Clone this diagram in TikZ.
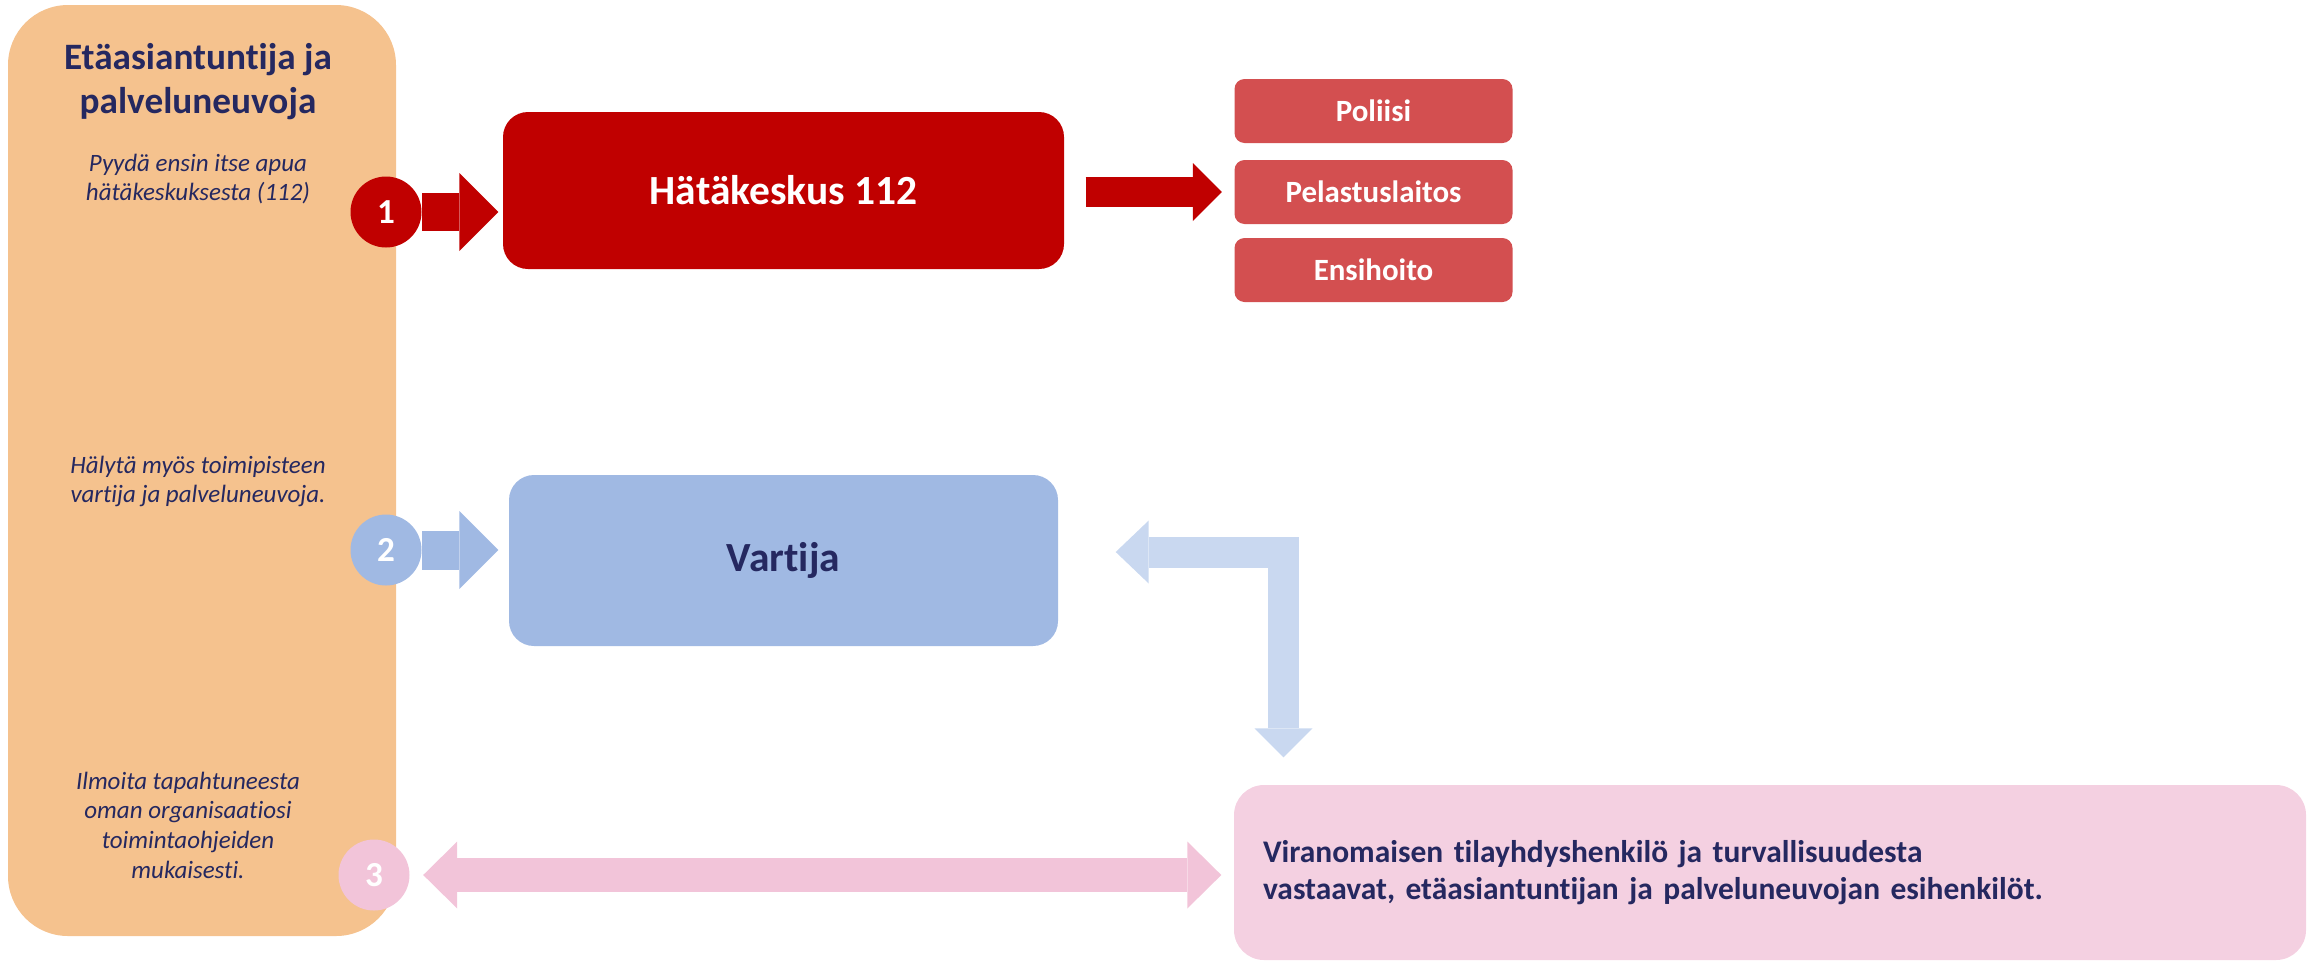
\documentclass[tikz,border=0pt]{standalone}
\usepackage{fontspec}
\setmainfont{Carlito}[Ligatures=NoCommon]
\usepackage{xcolor}
\usetikzlibrary{arrows.meta,positioning,calc}

\definecolor{orangebg}{HTML}{F5C28E}
\definecolor{darkred}{HTML}{C00000}
\definecolor{boxred}{HTML}{D34F50}
\definecolor{navytxt}{HTML}{252860}
\definecolor{bluebox}{HTML}{A0B9E3}
\definecolor{lightblue}{HTML}{C9D8F0}
\definecolor{pinkarr}{HTML}{F2C4D9}
\definecolor{pinkbox}{HTML}{F4D0E1}

\begin{document}
\begin{tikzpicture}[x=0.1mm, y=-0.1mm,
  box/.style={rectangle, rounded corners=2.5mm, inner sep=0pt},
  num/.style={circle, minimum size=7.1mm, inner sep=0pt, text=white, font=\fontsize{10}{12}\selectfont\bfseries},
  side/.style={align=center, anchor=north, inner sep=0pt, text=navytxt, font=\fontsize{7.1}{8.5}\selectfont\itshape},
  big/.style={font=\fontsize{11.8}{13}\selectfont\bfseries},
  small/.style={font=\fontsize{8.8}{10.5}\selectfont\bfseries}]
\useasboundingbox (0,0) rectangle (2308,963);

% left column
\node[box, rounded corners=6mm, fill=orangebg, minimum width=38.8mm, minimum height=93.1mm] (agent) at (202,470.5) {};
\node[align=center, anchor=north, inner sep=0pt, text=navytxt, font=\fontsize{10.6}{12.5}\selectfont\bfseries] (title) at (198,43) {Etäasiantuntija ja\\palveluneuvoja};
\node[side] (t1) at (198,153) {Pyydä ensin itse apua\\hätäkeskuksesta (112)};
\node[side] (t2) at (198,455) {Hälytä myös toimipisteen\\vartija ja palveluneuvoja.};
\node[side] (t3) at (188,771) {Ilmoita tapahtuneesta\\oman organisaatiosi\\toimintaohjeiden\\mukaisesti.};

% targets
\node[box, fill=darkred, text=white, big, minimum width=56.1mm, minimum height=15.7mm] (hk) at (783.5,190.5) {Hätäkeskus 112};
\node[box, fill=bluebox, text=navytxt, big, minimum width=54.9mm, minimum height=17.1mm] (vartija) at (783.5,560.5) {Vartija};
\foreach \y/\name/\txt in {111/pol/Poliisi, 192/pel/Pelastuslaitos, 270/ens/Ensihoito}{
  \node[box, rounded corners=1mm, fill=boxred, text=white, small, minimum width=27.8mm, minimum height=6.4mm] (\name) at (1373.5,\y) {\txt};
}
\node[box, rounded corners=3mm, fill=pinkbox, text=navytxt, font=\fontsize{8.95}{10.6}\selectfont\bfseries, align=left, text width=101.4mm, inner xsep=2.9mm, minimum height=17.5mm] (viran) at (1770,872.5)
  {Viranomaisen tilayhdyshenkilö ja turvallisuudesta\\vastaavat, etäasiantuntijan ja palveluneuvojan esihenkilöt.};

% step numbers
\node[num, fill=darkred] (c1) at (386,212) {1};
\node[num, fill=bluebox] (c2) at (386,550) {2};
\node[num, fill=pinkarr] (c3) at (374,875) {3};

% block arrows
\draw[darkred, line width=3.8mm, shorten >=0.4mm, -{Triangle[length=3.9mm, width=7.8mm, line width=0pt]}] (c1.east) -- (c1 -| hk.west);
\draw[darkred, line width=3.0mm, shorten <=2.1mm, shorten >=1.2mm, -{Triangle[length=2.9mm, width=5.8mm, line width=0pt]}] (hk.east |- pel) -- (pel.west);
\draw[bluebox, line width=3.9mm, shorten >=1mm, -{Triangle[length=3.9mm, width=7.8mm, line width=0pt]}] (c2.east) -- (c2 -| vartija.west);
\coordinate (bend) at (1283.5,552);
\draw[lightblue, line width=3.1mm, shorten <=5.7mm, shorten >=2.7mm, {Triangle[length=3.3mm, width=6.3mm, line width=0pt]}-{Triangle[length=2.9mm, width=5.8mm, line width=0pt]}] (vartija.east |- bend) -- (bend) -- (bend |- viran.north);
\draw[pinkarr, line width=3.4mm, shorten <=1.3mm, shorten >=1.2mm, {Triangle[length=3.4mm, width=6.7mm, line width=0pt]}-{Triangle[length=3.4mm, width=6.7mm, line width=0pt]}] (c3.east) -- (c3 -| viran.west);
\end{tikzpicture}
\end{document}
